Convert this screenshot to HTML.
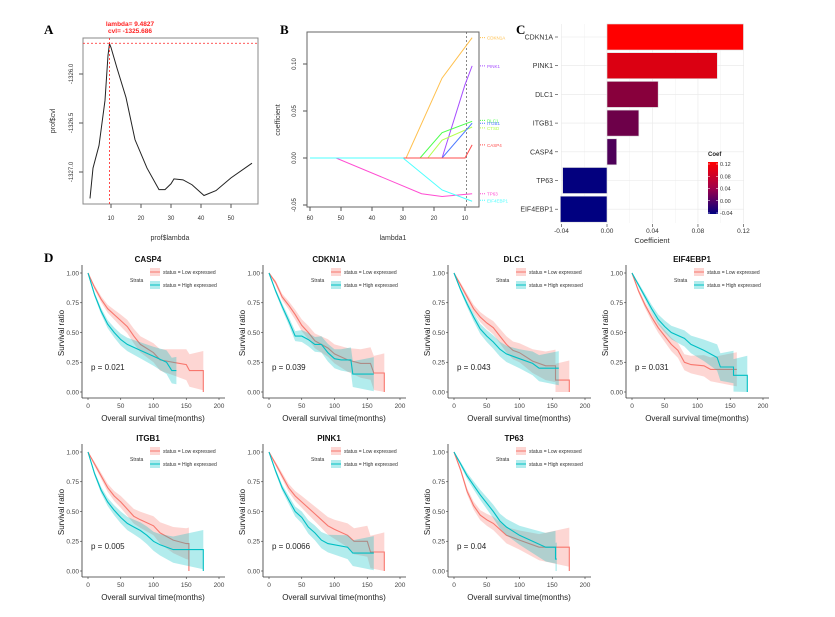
<!DOCTYPE html>
<html><head><meta charset="utf-8">
<style>
html,body{margin:0;padding:0;background:#fff;}
svg{display:block;font-family:"Liberation Sans",Arial,sans-serif;}
</style></head>
<body>
<svg id="fig" width="835" height="617" viewBox="0 0 835 617" xmlns="http://www.w3.org/2000/svg">
<rect width="835" height="617" fill="#fff"/>
<text x="44" y="34" font-family="Liberation Serif" font-weight="bold" font-size="13">A</text>
<text x="280" y="34" font-family="Liberation Serif" font-weight="bold" font-size="13">B</text>
<text x="516" y="34" font-family="Liberation Serif" font-weight="bold" font-size="13">C</text>
<text x="44" y="262" font-family="Liberation Serif" font-weight="bold" font-size="13">D</text>
<g id="gA"></g>
<g id="gB"></g>
<g id="gC"></g>
<g id="gD"></g>
</svg>
<script>
// ---- Panel A data ----
const aLambda = [3,4,6,8,9,9.5,10,12,15,18,22,26,28,30,31,34,37,41,45,50,57];
const aCvl = [-1327.27,-1326.96,-1326.73,-1326.27,-1325.81,-1325.69,-1325.73,-1325.94,-1326.24,-1326.67,-1326.96,-1327.18,-1327.18,-1327.12,-1327.07,-1327.08,-1327.13,-1327.24,-1327.19,-1327.06,-1326.91];
const aXTicks = [10,20,30,40,50];
const aYTicks = [-1326.0,-1326.5,-1327.0];
const aBest = 9.4827, aBestCvl = -1325.686;

// ---- Panel B data ----
const bGenes = ["CDKN1A","PINK1","DLC1","CTSD","ITGB1","CASP4","TP63","EIF4EBP1"];
const bColors = ["#FFC04D","#A64DFF","#4DFF4D","#B3FF4D","#4D79FF","#FF4D4D","#FF4DD2","#4DFFFF"];
const bLambda = [[60,29,17.4,7.7],[60,17.4,10,7.7],[60,24.5,17.4,7.7],[60,22,17.4,7.7],[60,17.4,7.7],[60,10,7.7],[60,51.6,24,17.4,7.7],[60,30,17.4,7.7]];
const bCoef = [[0,0,0.085,0.128],[0,0,0.078,0.098],[0,0,0.027,0.039],[0,0,0.019,0.033],[0,0,0.037],[0,0,0.014],[0,0,-0.038,-0.041,-0.038],[0,0,-0.034,-0.046]];
const bLabelY = [0.128,0.098,0.040,0.032,0.037,0.014,-0.038,-0.045];
const bXTicks = [60,50,40,30,20,10];
const bYTicks = [0.10,0.05,0.00,-0.05];
const bCut = 9.5;

// ---- Panel C data ----
const cGenes = ["CDKN1A","PINK1","DLC1","ITGB1","CASP4","TP63","EIF4EBP1"];
const cCoef = [0.120,0.097,0.045,0.028,0.0085,-0.039,-0.041];
const cXTicks = [-0.04,0.00,0.04,0.08,0.12];
const cLegendTicks = [0.12,0.08,0.04,0.00,-0.04];

// ---- Panel D data ----
const dGenes = ["CASP4","CDKN1A","DLC1","EIF4EBP1","ITGB1","PINK1","TP63"];
const dPvals = ["p = 0.021","p = 0.039","p = 0.043","p = 0.031","p = 0.005","p = 0.0066","p = 0.04"];
const dLow = [
 [[0,1],[10,0.88],[20,0.78],[30,0.7],[40,0.65],[50,0.6],[60,0.55],[70,0.47],[80,0.4],[100,0.33],[110,0.27],[130,0.25],[150,0.23],[155,0.18],[176,0.18],[176,0]],
 [[0,1],[10,0.92],[20,0.8],[30,0.73],[40,0.65],[50,0.56],[60,0.5],[70,0.43],[90,0.37],[100,0.32],[120,0.27],[140,0.24],[155,0.24],[160,0.16],[176,0.16],[176,0]],
 [[0,1],[10,0.9],[20,0.8],[30,0.7],[40,0.63],[50,0.58],[60,0.54],[70,0.47],[80,0.4],[90,0.35],[100,0.33],[120,0.26],[140,0.22],[155,0.22],[155,0.1],[176,0.1],[176,0]],
 [[0,1],[10,0.85],[20,0.73],[30,0.63],[40,0.54],[50,0.47],[60,0.4],[70,0.35],[80,0.25],[90,0.23],[110,0.22],[120,0.19],[160,0.19]],
 [[0,1],[10,0.9],[20,0.8],[30,0.7],[40,0.63],[50,0.58],[60,0.52],[70,0.46],[80,0.43],[100,0.38],[110,0.32],[130,0.26],[150,0.23],[154,0.23],[154,0]],
 [[0,1],[10,0.9],[20,0.8],[30,0.7],[40,0.63],[50,0.58],[60,0.53],[70,0.48],[80,0.43],[90,0.38],[100,0.35],[120,0.3],[130,0.25],[150,0.25],[155,0.16],[176,0.16],[176,0]],
 [[0,1],[10,0.85],[20,0.67],[30,0.55],[40,0.47],[50,0.43],[60,0.4],[70,0.35],[80,0.3],[100,0.26],[120,0.22],[130,0.2],[176,0.2],[176,0]]
];
const dHigh = [
 [[0,1],[10,0.82],[20,0.68],[30,0.57],[40,0.5],[50,0.44],[60,0.4],[80,0.35],[100,0.3],[120,0.25],[128,0.18],[135,0.18]],
 [[0,1],[10,0.85],[20,0.72],[30,0.6],[40,0.47],[50,0.47],[60,0.44],[70,0.4],[80,0.4],[90,0.33],[100,0.28],[110,0.27],[125,0.27],[128,0.15],[160,0.15]],
 [[0,1],[10,0.86],[20,0.74],[30,0.63],[40,0.53],[50,0.47],[60,0.42],[70,0.36],[80,0.32],[100,0.28],[120,0.24],[130,0.2],[160,0.2]],
 [[0,1],[10,0.9],[20,0.8],[30,0.7],[40,0.61],[50,0.55],[60,0.5],[80,0.45],[90,0.4],[110,0.35],[130,0.29],[135,0.21],[155,0.21],[155,0.14],[176,0.14],[176,0]],
 [[0,1],[10,0.82],[20,0.68],[30,0.58],[40,0.51],[50,0.45],[60,0.4],[70,0.37],[80,0.34],[90,0.3],[100,0.25],[110,0.22],[130,0.18],[176,0.18],[176,0]],
 [[0,1],[10,0.84],[20,0.7],[30,0.6],[40,0.5],[50,0.45],[60,0.37],[70,0.32],[80,0.26],[90,0.23],[120,0.2],[128,0.15],[160,0.15]],
 [[0,1],[10,0.9],[20,0.8],[30,0.72],[40,0.64],[50,0.57],[60,0.5],[70,0.42],[80,0.37],[100,0.3],[120,0.25],[140,0.2],[155,0.2],[155,0.1],[157,0.1]]
];
const dCiTime = [0,50,100,150,180];
const dCiHalf = [0.01,0.05,0.08,0.13,0.17];
const dXTicks = [0,50,100,150,200];
const dYTicks = [0,0.25,0.5,0.75,1];

const NS="http://www.w3.org/2000/svg";
function mk(parent,tag,attrs,text){const e=document.createElementNS(NS,tag);for(const k in attrs)e.setAttribute(k,attrs[k]);if(text!==undefined)e.textContent=text;parent.appendChild(e);return e;}

// ===== Panel A =====
(function(){
 const g=document.getElementById('gA');
 const xs=l=>81+3*l, ys=v=>74+(-1326-v)*98;
 mk(g,'rect',{x:83,y:38,width:175,height:166,fill:'none',stroke:'#888','stroke-width':1});
 aXTicks.forEach(t=>{mk(g,'line',{x1:xs(t),x2:xs(t),y1:204,y2:208,stroke:'#555'});
  const e=mk(g,'text',{x:xs(t),y:220,'font-size':6,'text-anchor':'middle',fill:'#333'},t);
  });
 aYTicks.forEach(t=>{mk(g,'line',{x1:79,x2:83,y1:ys(t),y2:ys(t),stroke:'#555'});
  const e=mk(g,'text',{x:0,y:0,'font-size':6,'text-anchor':'middle',fill:'#333',transform:`translate(73,${ys(t)}) rotate(-90)`},t.toFixed(1));
  });
 const p=mk(g,'path',{d:aLambda.map((l,i)=>(i?'L':'M')+xs(l)+','+ys(aCvl[i])).join(''),fill:'none',stroke:'#222','stroke-width':1});
 
 mk(g,'line',{x1:83,x2:258,y1:ys(aBestCvl),y2:ys(aBestCvl),stroke:'#f22','stroke-dasharray':'2,2','stroke-width':0.8});
 mk(g,'line',{x1:xs(aBest),x2:xs(aBest),y1:38,y2:204,stroke:'#f22','stroke-dasharray':'2,2','stroke-width':0.8});
 mk(g,'text',{x:130,y:26,'font-size':6.5,'font-weight':'bold','text-anchor':'middle',fill:'#f22'},'lambda= '+aBest);
 mk(g,'text',{x:130,y:33,'font-size':6.5,'font-weight':'bold','text-anchor':'middle',fill:'#f22'},'cvl= '+aBestCvl.toFixed(3));
 const xl=mk(g,'text',{x:170,y:240,'font-size':7,'text-anchor':'middle',fill:'#333'},'prof$lambda');
 
 const yl=mk(g,'text',{x:0,y:0,'font-size':7,'text-anchor':'middle',fill:'#333',transform:'translate(55,121) rotate(-90)'},'prof$cvl');
 
})();

// ===== Panel B =====
(function(){
 const g=document.getElementById('gB');
 const xs=l=>310+(60-l)*3.1, ys=v=>158-v*940;
 mk(g,'rect',{x:307,y:32,width:172,height:175,fill:'none',stroke:'#666','stroke-width':1});
 bXTicks.forEach(t=>{mk(g,'line',{x1:xs(t),x2:xs(t),y1:207,y2:211,stroke:'#555'});
  const e=mk(g,'text',{x:xs(t),y:220,'font-size':6,'text-anchor':'middle',fill:'#333'},t);
  });
 bYTicks.forEach(t=>{mk(g,'line',{x1:303,x2:307,y1:ys(t),y2:ys(t),stroke:'#555'});
  const e=mk(g,'text',{x:0,y:0,'font-size':6,'text-anchor':'middle',fill:'#333',transform:`translate(296,${ys(t)}) rotate(-90)`},t.toFixed(2));
  });
 mk(g,'line',{x1:xs(bCut),x2:xs(bCut),y1:32,y2:207,stroke:'#555','stroke-dasharray':'2,2','stroke-width':0.7});
 bGenes.forEach((gn,i)=>{
  const p=mk(g,'path',{d:bLambda[i].map((l,j)=>(j?'L':'M')+xs(l)+','+ys(bCoef[i][j])).join(''),fill:'none',stroke:bColors[i],'stroke-width':1});
  
  const ly=ys(bLabelY[i]);
  mk(g,'line',{x1:480,x2:486,y1:ly,y2:ly,stroke:bColors[i],'stroke-dasharray':'1,1'});
  const t=mk(g,'text',{x:487,y:ly+2,'font-size':4.5,fill:bColors[i]},gn);
  
 });
 const xl=mk(g,'text',{x:393,y:240,'font-size':7,'text-anchor':'middle',fill:'#333'},'lambda1');
 
 const yl=mk(g,'text',{x:0,y:0,'font-size':7,'text-anchor':'middle',fill:'#333',transform:'translate(280,120) rotate(-90)'},'coefficient');
 
})();

// ===== Panel C =====
(function(){
 const g=document.getElementById('gC');
 const xs=v=>607+v*1137, rowY=i=>37+i*28.7;
 const col=v=>{let t=(v+0.041)/0.161;t=Math.max(0,Math.min(1,t));return `rgb(${Math.round(255*t)},0,${Math.round(128*(1-t))})`;};
 mk(g,'rect',{x:561,y:24,width:183,height:199,fill:'#fff'});
 [-0.02,0.02,0.06,0.10].forEach(v=>mk(g,'line',{x1:xs(v),x2:xs(v),y1:24,y2:223,stroke:'#f2f2f2','stroke-width':0.5}));
 cXTicks.forEach(v=>mk(g,'line',{x1:xs(v),x2:xs(v),y1:24,y2:223,stroke:'#e8e8e8','stroke-width':0.6}));
 cGenes.forEach((gn,i)=>mk(g,'line',{x1:561,x2:744,y1:rowY(i),y2:rowY(i),stroke:'#e8e8e8','stroke-width':0.6}));
 cGenes.forEach((gn,i)=>{
  const v=cCoef[i],x0=Math.min(xs(0),xs(v)),w=Math.abs(xs(v)-xs(0));
  const r=mk(g,'rect',{x:x0,y:rowY(i)-13,width:w,height:26,fill:col(v),stroke:'#ddd','stroke-width':0.6});
  
  mk(g,'line',{x1:555,x2:558,y1:rowY(i),y2:rowY(i),stroke:'#333','stroke-width':0.6});
  const t=mk(g,'text',{x:553,y:rowY(i)+2.5,'font-size':7,'text-anchor':'end',fill:'#333'},gn);
  
 });
 cXTicks.forEach(v=>{mk(g,'line',{x1:xs(v),x2:xs(v),y1:224,y2:227,stroke:'#333','stroke-width':0.6});
  const t=mk(g,'text',{x:xs(v),y:233,'font-size':6.5,'text-anchor':'middle',fill:'#333'},v.toFixed(2));
  });
 const xl=mk(g,'text',{x:652,y:243,'font-size':7.5,'text-anchor':'middle',fill:'#333'},'Coefficient');
 
 const defs=mk(g,'defs',{});const lg=mk(defs,'linearGradient',{id:'coefGrad',x1:0,y1:0,x2:0,y2:1});
 mk(lg,'stop',{offset:'0%','stop-color':'#ff0000'});mk(lg,'stop',{offset:'50%','stop-color':'#a0004a'});mk(lg,'stop',{offset:'100%','stop-color':'#000080'});
 const lt=mk(g,'text',{x:708,y:156,'font-size':6,'font-weight':'bold',fill:'#222'},'Coef');
 
 const lr=mk(g,'rect',{x:708,y:162,width:10,height:52,fill:'url(#coefGrad)'});
 
 cLegendTicks.forEach(v=>{const y=164+(0.12-v)/0.16*49;
  mk(g,'line',{x1:708,x2:710,y1:y,y2:y,stroke:'#fff','stroke-width':0.5});mk(g,'line',{x1:716,x2:718,y1:y,y2:y,stroke:'#fff','stroke-width':0.5});
  const t=mk(g,'text',{x:720,y:y+2,'font-size':5.5,fill:'#333'},v.toFixed(2));
  });
})();

// ===== Panel D =====
(function(){
 const g=document.getElementById('gD');
 const colX=[88,269,454,632], rowY1=[273,452];
 const RED='#F8766D', TEAL='#00BFC4';
 const ci=t=>{for(let k=1;k<dCiTime.length;k++){if(t<=dCiTime[k]){const f=(t-dCiTime[k-1])/(dCiTime[k]-dCiTime[k-1]);return dCiHalf[k-1]+f*(dCiHalf[k]-dCiHalf[k-1]);}}return dCiHalf[dCiHalf.length-1];};
 dGenes.forEach((gn,idx)=>{
  const ox=colX[idx<4?idx:idx-4], y1=rowY1[idx<4?0:1];
  const xs=t=>ox+t*0.655, ys=v=>y1+(1-v)*119;
  const pg=mk(g,'g',{});
  
  mk(pg,'line',{x1:ox-6,x2:ox-6,y1:y1-8,y2:y1+125,stroke:'#333','stroke-width':0.8});
  mk(pg,'line',{x1:ox-6,x2:ox+137,y1:y1+125,y2:y1+125,stroke:'#333','stroke-width':0.8});
  dYTicks.forEach(v=>{mk(pg,'line',{x1:ox-8,x2:ox-6,y1:ys(v),y2:ys(v),stroke:'#333','stroke-width':0.6});
   const t=mk(pg,'text',{x:ox-9,y:ys(v)+2.3,'font-size':6.5,'text-anchor':'end',fill:'#444'},v.toFixed(2));
   });
  dXTicks.forEach(v=>{mk(pg,'line',{x1:xs(v),x2:xs(v),y1:y1+125,y2:y1+127,stroke:'#333','stroke-width':0.6});
   const t=mk(pg,'text',{x:xs(v),y:y1+135,'font-size':6.5,'text-anchor':'middle',fill:'#444'},v);
   });
  [[dLow[idx],RED,'low'],[dHigh[idx],TEAL,'high']].forEach(([pts,c,nm])=>{
   const d=pts.map((p,j)=>(j?'L':'M')+xs(p[0]).toFixed(1)+','+ys(p[1]).toFixed(1)).join('');
   const pos=pts.filter(p=>p[1]>0);
   const up=pos.map(p=>[xs(p[0]),ys(Math.min(1,p[1]+ci(p[0])))]);
   const lo=pos.map(p=>[xs(p[0]),ys(Math.max(0,p[1]-ci(p[0])))]).reverse();
   const b=mk(pg,'polygon',{points:up.concat(lo).map(q=>q[0].toFixed(1)+','+q[1].toFixed(1)).join(' '),fill:c,'fill-opacity':0.3,stroke:'none'});
   
   const l=mk(pg,'path',{d:d,fill:'none',stroke:c,'stroke-width':1.1});
   
  });
  const tt=mk(pg,'text',{x:ox+60,y:y1-11,'font-size':8,'font-weight':'bold','text-anchor':'middle',fill:'#111'},gn);
  
  const pv=mk(pg,'text',{x:xs(0)+3,y:ys(0.2)+2,'font-size':8,fill:'#222'},dPvals[idx]);
  
  const yt=mk(pg,'text',{x:0,y:0,'font-size':8,'text-anchor':'middle',fill:'#222',transform:`translate(${ox-24},${y1+60}) rotate(-90)`},'Survival ratio');
  
  const xt=mk(pg,'text',{x:ox+65,y:y1+148,'font-size':8,'text-anchor':'middle',fill:'#222'},'Overall survival time(months)');
  
  const lx=ox+62;
  const st=mk(pg,'text',{x:lx-20,y:y1+9,'font-size':5,fill:'#333'},'Strata');
  
  [[RED,'status = Low expressed',-1],[TEAL,'status = High expressed',12]].forEach(([c,txt,dy])=>{
   mk(pg,'rect',{x:lx,y:y1+dy-4,width:10,height:8,fill:c,'fill-opacity':0.3});
   mk(pg,'line',{x1:lx,x2:lx+10,y1:y1+dy,y2:y1+dy,stroke:c,'stroke-width':1});
   const t=mk(pg,'text',{x:lx+13,y:y1+dy+2,'font-size':5,fill:'#333'},txt);
   
  });
 });
})();
</script>
</body></html>
